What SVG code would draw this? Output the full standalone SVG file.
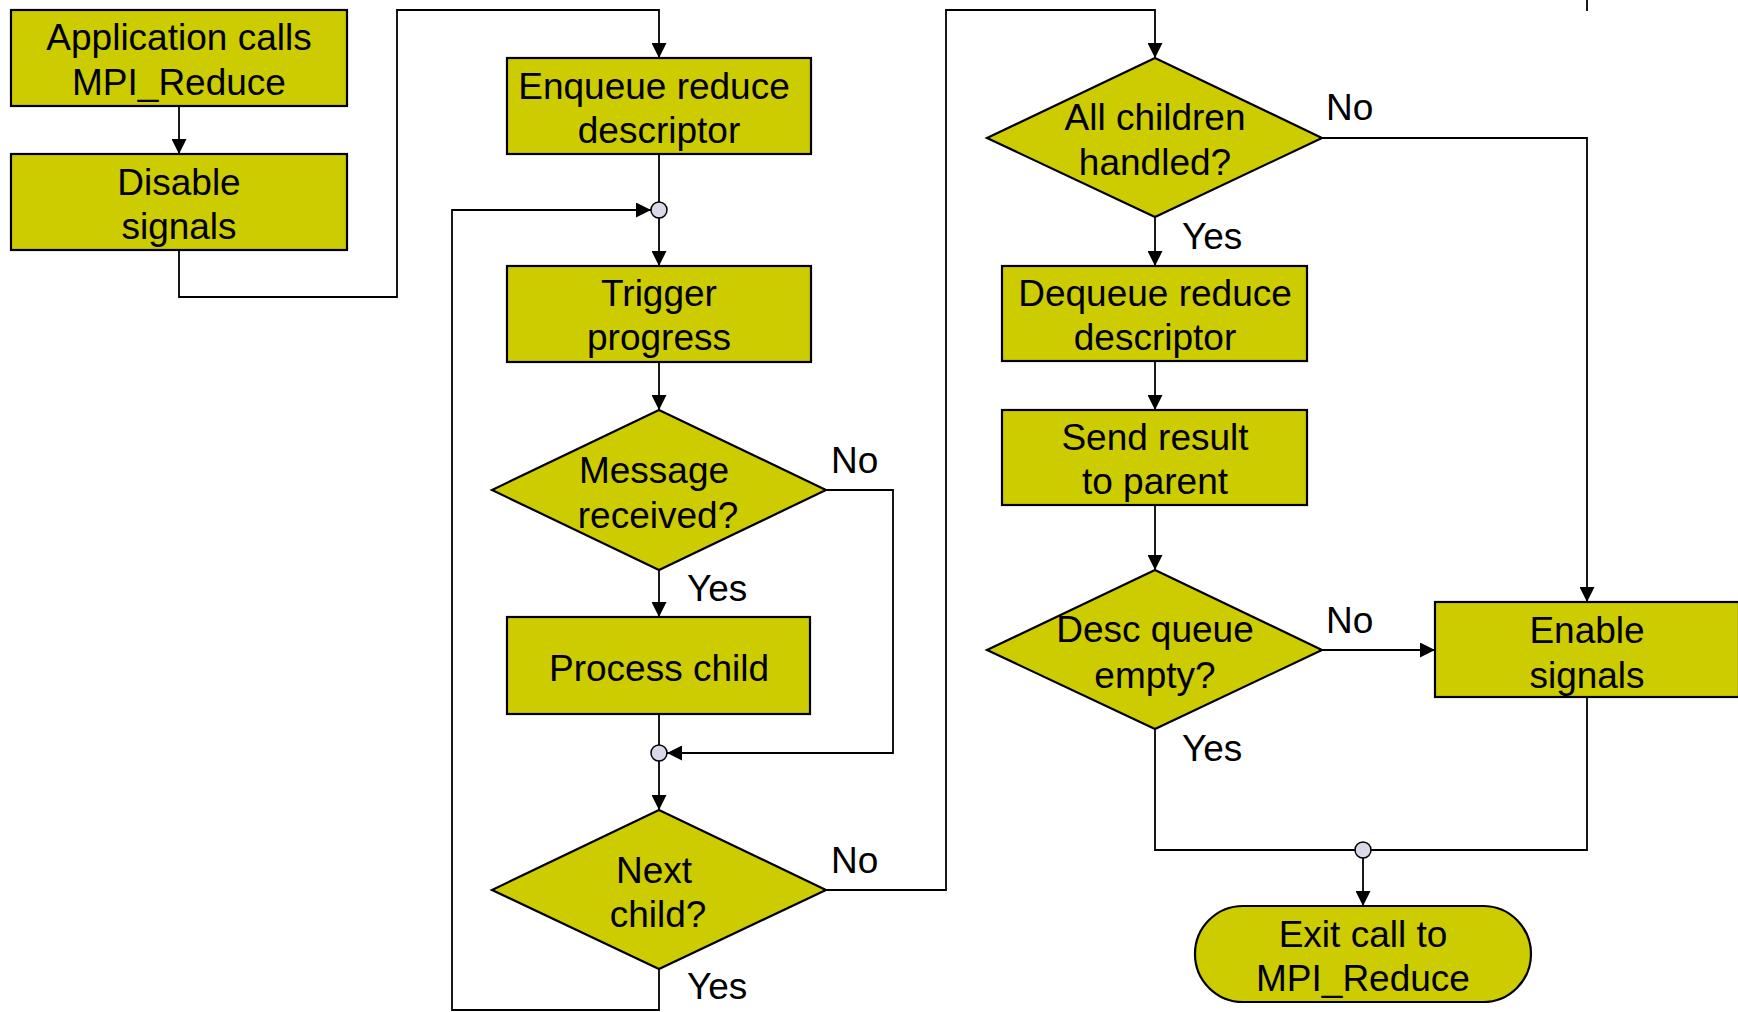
<svg xmlns="http://www.w3.org/2000/svg" width="1738" height="1012" viewBox="0 0 1738 1012">
<style>
.n{fill:#CCCC00;stroke:#000;stroke-width:2.2}
.t{font-family:"Liberation Sans",Arial,sans-serif;font-size:37px;fill:#000;text-anchor:middle}
.l{font-family:"Liberation Sans",Arial,sans-serif;font-size:37px;fill:#000}
.c{fill:none;stroke:#000;stroke-width:1.8}
.a{marker-end:url(#ah)}
.j{fill:#D9D9EA;stroke:#000;stroke-width:1.5}
</style>
<defs>
<marker id="ah" markerUnits="userSpaceOnUse" markerWidth="15" markerHeight="15" refX="15" refY="7.5" orient="auto">
<path d="M0,0 L15,7.5 L0,15 Z" fill="#000"/>
</marker>
</defs>
<rect width="1738" height="1012" fill="#fff"/>
<g id="connectors">
<path class="c a" d="M179,106 V154"/>
<path class="c a" d="M179,250 V297 H397 V10 H659 V58"/>
<path class="c" d="M659,154 V202"/>
<path class="c a" d="M659,218 V266"/>
<path class="c a" d="M659,362 V410"/>
<path class="c a" d="M659,570 V617"/>
<path class="c a" d="M826,490 H893 V753 H667"/>
<path class="c" d="M659,714 V745"/>
<path class="c a" d="M659,761 V810"/>
<path class="c a" d="M659,969 V1010 H452 V210 H651"/>
<path class="c a" d="M826,890 H946 V10 H1155 V58"/>
<path class="c a" d="M1322,138 H1587 V602"/>
<path class="c a" d="M1155,217 V266"/>
<path class="c a" d="M1155,361 V410"/>
<path class="c a" d="M1155,505 V570"/>
<path class="c a" d="M1322,650 H1435"/>
<path class="c" d="M1155,729 V850 H1587 V697"/>
<path class="c a" d="M1363,858 V906"/>
<path class="c" d="M1587,0 V11"/>
<circle class="j" cx="659" cy="210" r="8"/>
<circle class="j" cx="659" cy="753" r="8"/>
<circle class="j" cx="1363" cy="850" r="8"/>
<text class="l" x="831" y="473">No</text>
<text class="l" x="687" y="601">Yes</text>
<text class="l" x="831" y="873">No</text>
<text class="l" x="687" y="999">Yes</text>
<text class="l" x="1326" y="120">No</text>
<text class="l" x="1182" y="249">Yes</text>
<text class="l" x="1326" y="633">No</text>
<text class="l" x="1182" y="761">Yes</text>
</g>
<g id="app">
<rect class="n" x="11" y="10" width="336" height="96"/>
<text class="t" x="179" y="49.5">Application calls</text>
<text class="t" x="179" y="94.5">MPI_Reduce</text>
</g>
<g id="disable">
<rect class="n" x="11" y="154" width="336" height="96"/>
<text class="t" x="179" y="194.5">Disable</text>
<text class="t" x="179" y="238.5">signals</text>
</g>
<g id="enqueue">
<rect class="n" x="507" y="58" width="304" height="96"/>
<text class="t" x="654" y="98.5">Enqueue reduce</text>
<text class="t" x="659" y="142.5">descriptor</text>
</g>
<g id="trigger">
<rect class="n" x="507" y="266" width="304" height="96"/>
<text class="t" x="659" y="305.5">Trigger</text>
<text class="t" x="659" y="349.5">progress</text>
</g>
<g id="message">
<polygon class="n" points="659,410 826,490 659,570 492,490"/>
<text class="t" x="654" y="482.5">Message</text>
<text class="t" x="658" y="527.5">received?</text>
</g>
<g id="process">
<rect class="n" x="507" y="617" width="303" height="97"/>
<text class="t" x="659" y="680.5">Process child</text>
</g>
<g id="next">
<polygon class="n" points="659,810 826,890 659,969 492,890"/>
<text class="t" x="654" y="882.5">Next</text>
<text class="t" x="658" y="926.5">child?</text>
</g>
<g id="allchildren">
<polygon class="n" points="1155,58 1322,138 1155,217 987,138"/>
<text class="t" x="1155" y="129.5">All children</text>
<text class="t" x="1155" y="174.5">handled?</text>
</g>
<g id="dequeue">
<rect class="n" x="1002" y="266" width="305" height="95"/>
<text class="t" x="1155" y="305.5">Dequeue reduce</text>
<text class="t" x="1155" y="349.5">descriptor</text>
</g>
<g id="send">
<rect class="n" x="1002" y="410" width="305" height="95"/>
<text class="t" x="1155" y="449.5">Send result</text>
<text class="t" x="1155" y="493.5">to parent</text>
</g>
<g id="descqueue">
<polygon class="n" points="1155,570 1322,650 1155,729 987,650"/>
<text class="t" x="1155" y="641.5">Desc queue</text>
<text class="t" x="1155" y="687.5">empty?</text>
</g>
<g id="enable">
<rect class="n" x="1435" y="602" width="304" height="95"/>
<text class="t" x="1587" y="642.5">Enable</text>
<text class="t" x="1587" y="687.5">signals</text>
</g>
<g id="exit">
<rect class="n" x="1195" y="906" width="336" height="96" rx="48" ry="48"/>
<text class="t" x="1363" y="946.5">Exit call to</text>
<text class="t" x="1363" y="990.5">MPI_Reduce</text>
</g>
</svg>
